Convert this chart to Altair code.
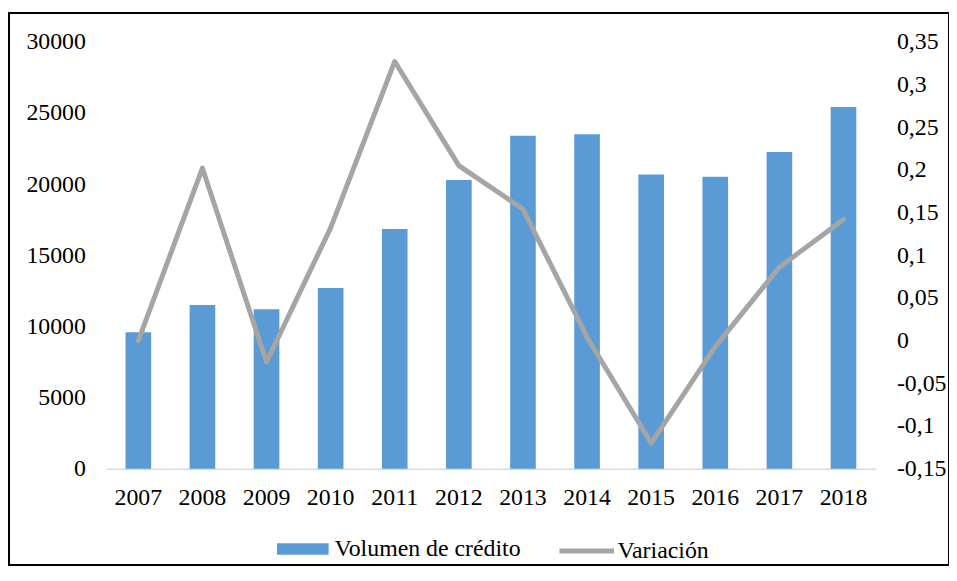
import altair as alt
import pandas as pd

# ---- data ----
years = ["2007", "2008", "2009", "2010", "2011", "2012",
         "2013", "2014", "2015", "2016", "2017", "2018"]
volumen = [9580, 11510, 11210, 12700, 16840, 20280,
           23400, 23510, 20670, 20510, 22260, 25420]
variacion = [0.000, 0.202, -0.025, 0.132, 0.327, 0.205,
             0.154, 0.004, -0.120, -0.007, 0.086, 0.142]
bar_name = "Volumen de crédito"
line_name = "Variación"
left_ticks = [0, 5000, 10000, 15000, 20000, 25000, 30000]
right_ticks = [-0.15, -0.1, -0.05, 0, 0.05, 0.1, 0.15, 0.2, 0.25, 0.3, 0.35]

df = pd.DataFrame({
    "year": years,
    "volumen": volumen,
    "variacion": variacion,
    "serie_bar": [bar_name] * len(years),
    "serie_line": [line_name] * len(years),
})

FONT = "Liberation Serif"
FS = 24
BLUE = "#5B9BD5"
GRAY = "#A5A5A5"
W, H = 947, 556

x_enc = alt.X(
    "year:N", sort=years,
    scale=alt.Scale(range=[98, 873], paddingInner=0.6, paddingOuter=0.3),
    axis=alt.Axis(title=None, labelAngle=0, ticks=False, tickSize=0,
                  domainColor="#D9D9D9", domainWidth=1.5, labelPadding=29,
                  labelBaseline="middle", offset=-(H - 459), grid=False),
)

bars = alt.Chart(df).mark_bar().encode(
    x=x_enc,
    y=alt.Y("volumen:Q",
            scale=alt.Scale(domain=[0, 30000], range=[459, 29], nice=False),
            axis=alt.Axis(title=None, values=left_ticks, format="d", orient="left",
                          offset=-77, ticks=False, tickSize=0, labelPadding=0,
                          domain=False, grid=False)),
    fill=alt.Fill("serie_bar:N",
                  scale=alt.Scale(domain=[bar_name], range=[BLUE]),
                  legend=alt.Legend(title=None, orient="none", legendX=270, legendY=514,
                                    symbolType="M-1,-0.225H1V0.225H-1Z", symbolSize=2704,
                                    symbolStrokeWidth=0, labelOffset=6, padding=0,
                                    labelLimit=0)),
)

line = alt.Chart(df).mark_line(strokeWidth=5, strokeCap="round", strokeJoin="round").encode(
    x=x_enc,
    y=alt.Y("variacion:Q",
            scale=alt.Scale(domain=[-0.15, 0.35], range=[459, 29], nice=False, zero=False),
            axis=alt.Axis(title=None, orient="right", values=right_ticks,
                          labelExpr="replace(toString(datum.value), '.', ',')",
                          offset=-(W - 894), ticks=False, tickSize=0, labelPadding=0,
                          domain=False, grid=False, labelAlign="left")),
    stroke=alt.Stroke("serie_line:N",
                      scale=alt.Scale(domain=[line_name], range=[GRAY]),
                      legend=alt.Legend(title=None, orient="none", legendX=552, legendY=512,
                                        symbolType="M-1,0H1", symbolSize=3025,
                                        symbolStrokeWidth=5, labelOffset=1, padding=0,
                                        labelLimit=0)),
)

chart = (
    alt.layer(bars, line)
    .resolve_scale(y="independent", fill="independent", stroke="independent")
    .properties(width=W, height=H,
                autosize=alt.AutoSizeParams(type="none"),
                padding={"left": 1, "top": 3, "right": 0, "bottom": 0},
                background="white")
    .configure_view(stroke="black", strokeWidth=2)
    .configure_axis(labelFont=FONT, labelFontSize=FS, labelColor="black")
    .configure_legend(labelFont=FONT, labelFontSize=FS, labelColor="black")
)

chart.save("out.html", embed_options={"renderer": "svg", "actions": False})
